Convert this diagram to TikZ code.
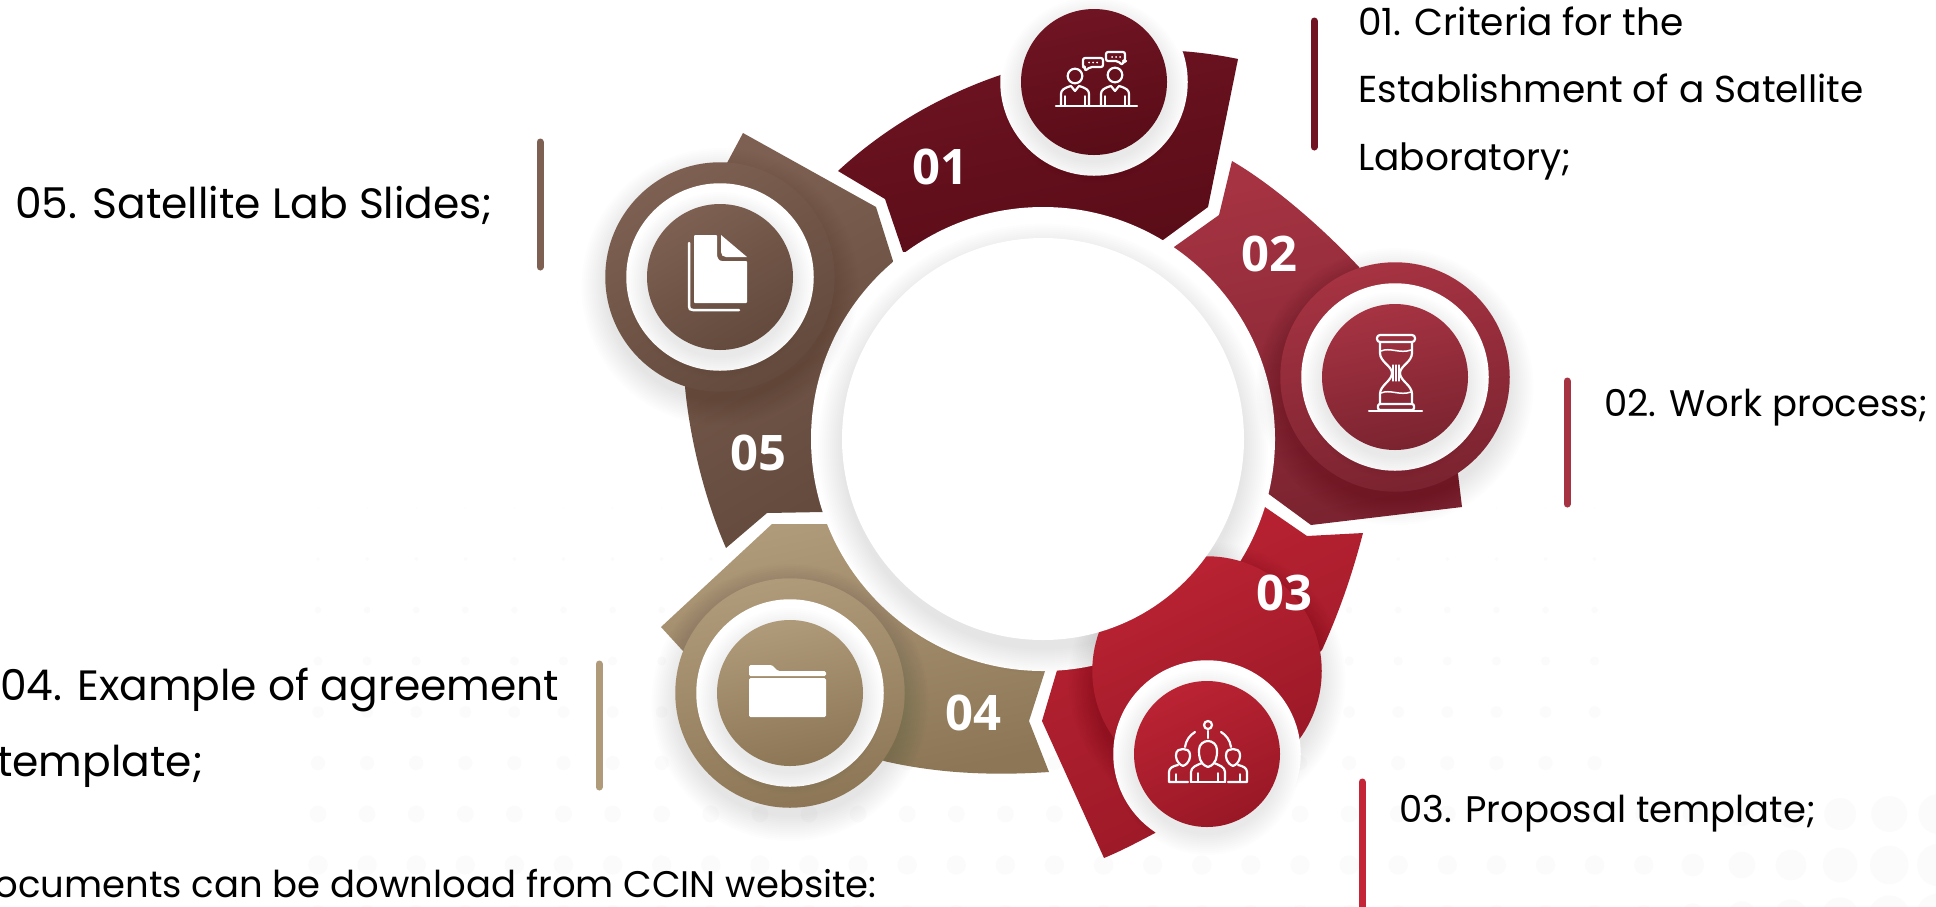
\documentclass[tikz,border=0pt]{standalone}
\usepackage{fontspec}
\setmainfont{Poppins}
\newfontfamily\numfont[Scale=1]{Open Sans}

\definecolor{ca}{HTML}{701423}
\definecolor{cb}{HTML}{590C17}
\definecolor{da}{HTML}{A63342}
\definecolor{db}{HTML}{7B2330}
\definecolor{ea}{HTML}{BB2333}
\definecolor{eb}{HTML}{991826}
\definecolor{fa}{HTML}{AF9A79}
\definecolor{fb}{HTML}{8C7656}
\definecolor{ga}{HTML}{7D6051}
\definecolor{gb}{HTML}{634A3D}
\definecolor{barc}{HTML}{C42537}
\definecolor{dotc}{HTML}{FBFBFB}

\tikzset{
	grad/.style 2 args={top color=#1,bottom color=#2,shading angle=12},
	outerd/.style={circle,inner sep=0pt,minimum size=229.5pt},
	whited/.style={circle,inner sep=0pt,minimum size=187.5pt,fill=white},
	innerd/.style={circle,inner sep=0pt,minimum size=146pt},
	num/.style={text=white,inner sep=0pt,font=\numfont\bfseries\fontsize{49}{49}\selectfont},
	lab/.style={anchor=base west,inner sep=0pt,font=\fontsize{37}{37}\selectfont},
	labbig/.style={lab,font=\fontsize{42.4}{42.4}\selectfont},
	bar/.style={line width=7pt,line cap=round},
	ico/.style={draw=white,line width=2.2pt,line join=round,line cap=round},
	icofill/.style={fill=white,draw=none},
}

% x y radius spread opacity
\newcommand{\softshade}[5]{
	\foreach \d in {0,2,...,#4}
		\fill[black,opacity=#5]	(#1,#2+#4*.4)	circle	({#3+\d});
}

\begin{document}
\begin{tikzpicture}[x=1pt,y=-1pt]

	\useasboundingbox	(0,0)	rectangle	(1936,906);
	\clip	(0,0)	rectangle	(1936,906);
	\fill[white]	(0,0)	rectangle	(1936,906);

	% dots behind everything
	\foreach \px in {0,...,33}
		\foreach \py in {0,...,8}{
			\pgfmathsetmacro{\dx}{318+49.1*\px}
			\pgfmathsetmacro{\dy}{508+51*\py}
			\pgfmathsetmacro{\dr}{(\dy-480)/40+(\dy>800)*max(0,(\dx-1650)/25)-(\dy<800)*(\dx>1620)*20}
			\ifdim \dr pt>0pt
				\fill[dotc]	(\dx,\dy)	circle	(\dr);
			\fi
		}

	% segments
	\path[shade,grad={ca}{cb}]	(838,171)	--	(885,199)	--	(903,252)	--	(1163,240)	--	(1208,207)	--	(1238,59)	.. controls (1100,30) and (945,72) ..	(838,171)	--	cycle;

	\path[shade,grad={da}{db}]	(1174,247)	--	(1219,215)	--	(1232,161)	.. controls (1270,183) and (1320,225) ..	(1359,267)	--	(1458,474)	--	(1462,507)	--	(1311,525)	--	(1266,492)	--	cycle;

	\path[shade,top color=ea,bottom color=eb,shading angle=25]	(1262,505)	--	(1307,536)	--	(1363,533)	.. controls (1352,575) and (1340,610) ..	(1322,650)	--	(1207,754)	--	(1155,833)	.. controls (1138,842) and (1121,851) ..	(1104,858)	--	(1042,721)	--	(1058,667)	--	cycle;

	\path[shade,grad={fa}{fb}]	(772,524)	--	(828,524)	--	(1046,668)	--	(1029,721)	--	(1049,772)	.. controls (990,776) and (935,773) ..	(884,761)	--	(683,651)	--	(661,627)	--	cycle;

	\path[shade,top color=ga,bottom color=gb,shading angle=30]	(743,133)	--	(876,207)	--	(893,261)	--	(823,512)	--	(767,513)	--	(726,548)	.. controls (705,500) and (690,440) ..	(685,387)	--	(727,163)	--	cycle;

	% ring in the middle
	\fill[white]	(1043,439)	circle	(232);
	\softshade{1043}{439}{201}{24}{.007}

	% outer discs
	\softshade{1395}{377}{114.5}{24}{.009}
	\softshade{1207}{671}{114.5}{24}{.009}
	\softshade{790}{693}{114.5}{24}{.009}
	\softshade{720}{277}{114.5}{24}{.009}

	\node 	(o2)	at	(1395,377) 	[outerd,grad={da}{db}]{};
	\node 	(o3)	at	(1207,671) 	[outerd,top color=ea,bottom color=eb,shading angle=25]{};
	\node 	(o4)	at	(790,693) 	[outerd,grad={fa}{fb}]{};
	\node 	(o5)	at	(720,277) 	[outerd,top color=ga,bottom color=gb,shading angle=30]{};

	\node 	(hub)	at	(1043,439) 	[circle,inner sep=0pt,minimum size=402pt,fill=white]{};

	% white rings
	\node 	(w1)	at	(1094,82) 	[whited]{};
	\node 	(w2)	at	(1395,377) 	[whited]{};
	\node 	(w3)	at	(1207,754) 	[whited]{};
	\node 	(w4)	at	(790,693) 	[whited]{};
	\node 	(w5)	at	(720,277) 	[whited]{};

	\softshade{1094}{82}{73}{20}{.009}
	\softshade{1395}{377}{73}{20}{.009}
	\softshade{1207}{754}{73}{20}{.009}
	\softshade{790}{693}{73}{20}{.009}
	\softshade{720}{277}{73}{20}{.009}

	% inner discs
	\node 	(d1)	at	(1094,82) 	[innerd,grad={ca}{cb}]{};
	\node 	(d2)	at	(1395,377) 	[innerd,grad={da}{db}]{};
	\node 	(d3)	at	(1207,754) 	[innerd,top color=ea,bottom color=eb,shading angle=25]{};
	\node 	(d4)	at	(790,693) 	[innerd,grad={fa}{fb}]{};
	\node 	(d5)	at	(720,277) 	[innerd,top color=ga,bottom color=gb,shading angle=30]{};

	% numbers
	\node 	(n1)	at	(940,167) 	[num]{01};
	\node 	(n2)	at	(1269,254) 	[num]{02};
	\node 	(n3)	at	(1284,593) 	[num]{03};
	\node 	(n4)	at	(973,713) 	[num]{04};
	\node 	(n5)	at	(758,453) 	[num]{05};

	% two people talking
	\draw[ico]	(1056,106)	--	(1137,106);
	\draw[ico]	(1075,76)	circle	(7.3);
	\draw[ico]	(1115,75)	circle	(7.3);
	\foreach \sx in {0,40}{
		\draw[ico]	(1061+\sx,106)	--	(1061+\sx,94)	.. controls (1061+\sx,90) and (1064+\sx,88) ..	(1071+\sx,86)	--	(1075+\sx,91)	--	(1079+\sx,86)	.. controls (1086+\sx,88) and (1089+\sx,90) ..	(1089+\sx,94)	--	(1089+\sx,106);
		\draw[ico,line width=1.5pt]	(1065+\sx,96)	--	(1065+\sx,105);
		\draw[ico,line width=1.5pt]	(1085+\sx,96)	--	(1085+\sx,105);
	}
	\draw[ico,rounded corners=2pt]	(1083,58)	--	(1103,58)	--	(1103,67)	--	(1090,67)	--	(1085,71)	--	(1085,67)	--	(1083,67)	--	cycle;
	\draw[ico,rounded corners=2pt]	(1106,52)	--	(1125,52)	--	(1125,61)	--	(1124,61)	--	(1122,65)	--	(1118,61)	--	(1106,61)	--	cycle;
	\foreach \sx in {1089,1093,1097}
		\fill[white]	(\sx,62.5)	circle	(1);
	\foreach \sx in {1112,1116,1120}
		\fill[white]	(\sx,57)	circle	(1);

	% hourglass
	\draw[ico]	(1369,411)	--	(1422,411);
	\draw[ico,rounded corners=3pt]	(1377,335)	rectangle	(1415,342);
	\draw[ico,rounded corners=2pt]	(1378,404)	rectangle	(1414,410);
	\draw[ico]	(1380,342)	--	(1380,353)	.. controls (1380,362) and (1392,366) ..	(1392,373)	.. controls (1392,381) and (1380,385) ..	(1380,394)	--	(1380,404);
	\draw[ico]	(1412,342)	--	(1412,353)	.. controls (1412,362) and (1400,366) ..	(1400,373)	.. controls (1400,381) and (1412,385) ..	(1412,394)	--	(1412,404);
	\draw[ico,line width=1.5pt]	(1381,351)	.. controls (1390,347) and (1400,354) ..	(1411,350);
	\draw[ico,line width=1.5pt]	(1381,393)	.. controls (1390,389) and (1400,396) ..	(1411,392);
	\foreach \sx in {1393,1396,1399}
		\draw[ico,line width=1.2pt]	(\sx,365)	--	(\sx,381);

	% three people
	\draw[ico]	(1208,725)	circle	(4);
	\draw[ico]	(1208,731)	--	(1208,738);
	\draw[ico]	(1208,767)	.. controls (1199,764) and (1199,756) ..	(1199,750)	.. controls (1199,744) and (1204,741) ..	(1208,741)	.. controls (1212,741) and (1217,744) ..	(1217,750)	.. controls (1217,756) and (1217,764) ..	(1208,767);
	\draw[ico]	(1191,782)	--	(1191,772)	.. controls (1191,767) and (1197,765) ..	(1202,763);
	\draw[ico]	(1225,782)	--	(1225,772)	.. controls (1225,767) and (1219,765) ..	(1214,763);
	\draw[ico]	(1191,782)	--	(1225,782);
	\draw[ico,line width=1.5pt]	(1198,773)	--	(1198,781);
	\draw[ico,line width=1.5pt]	(1218,773)	--	(1218,781);
	\foreach \sx/\sg in {1183/1,1233/-1}{
		\draw[ico]	(\sx,766)	.. controls (\sx-7*\sg,763) and (\sx-7*\sg,757) ..	(\sx-7*\sg,755)	.. controls (\sx-7*\sg,750) and (\sx-3*\sg,749) ..	(\sx,749)	.. controls (\sx+3*\sg,749) and (\sx+7*\sg,750) ..	(\sx+7*\sg,755)	.. controls (\sx+7*\sg,757) and (\sx+7*\sg,763) ..	(\sx,766);
		\draw[ico]	(\sx+2*\sg,747)	.. controls (\sx+3*\sg,740) and (\sx+7*\sg,735) ..	(\sx+12*\sg,732);
		\draw[ico]	(\sx+5*\sg,782)	--	(\sx-14*\sg,782)	--	(\sx-14*\sg,772)	.. controls (\sx-14*\sg,768) and (\sx-10*\sg,766) ..	(\sx-5*\sg,765);
		\draw[ico,line width=1.5pt]	(\sx-7*\sg,774)	--	(\sx-7*\sg,781);
	}

	% folder
	\fill[icofill,rounded corners=1.5pt]	(749,676)	--	(749,665)	--	(772,665)	--	(778,671)	--	(826,671)	--	(826,676)	--	cycle;
	\fill[icofill,rounded corners=1.5pt]	(749,678)	rectangle	(826,717);

	% pages
	\fill[icofill,rounded corners=1pt]	(694,235)	--	(717,235)	--	(717,253)	.. controls (717,258) and (719,261) ..	(723,261)	--	(747,261)	--	(747,303)	--	(694,303)	--	cycle;
	\fill[icofill]	(721,235)	--	(747,257)	--	(726,257)	.. controls (723,257) and (721,255) ..	(721,252)	--	cycle;
	\draw[ico,line width=2.5pt]	(689,243)	--	(689,306)	.. controls (689,309) and (690,310) ..	(693,310)	--	(739,310);

	% bars
	\draw[bar,ca]	(1314,21)	--	(1314,147);
	\draw[bar,da]	(1567,381)	--	(1567,504);
	\draw[bar,barc]	(1362,782)	--	(1362,915);
	\draw[bar,fa]	(599,664)	--	(599,787);
	\draw[bar,ga]	(540,142)	--	(540,267);

	% texts
	\node 	(t1a)	at	(1358,35) 	[lab,font=\fontsize{37.5}{37.5}\selectfont]{01. Criteria for the};
	\node 	(t1b)	at	(1358,102) 	[lab,font=\fontsize{37.5}{37.5}\selectfont]{Establishment of a Satellite};
	\node 	(t1c)	at	(1358,170) 	[lab,font=\fontsize{37.5}{37.5}\selectfont]{Laboratory;};
	\node 	(t2)	at	(1604,416) 	[lab]{02. Work process;};
	\node 	(t3)	at	(1399,822) 	[lab]{03. Proposal template;};
	\node 	(t4a)	at	(0,700) 	[labbig]{04. Example of agreement};
	\node 	(t4b)	at	(-3,776) 	[labbig]{template;};
	\node 	(t5)	at	(15,218) 	[labbig]{05. Satellite Lab Slides;};
	\node 	(t6)	at	(877,897) 	[lab,anchor=base east]{ocuments can be download from CCIN website:};

\end{tikzpicture}
\end{document}
